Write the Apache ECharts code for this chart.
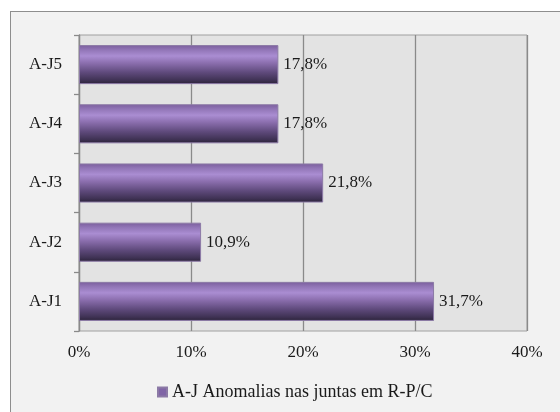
<!DOCTYPE html>
<html>
<head>
<meta charset="utf-8">
<script src="https://cdn.jsdelivr.net/npm/echarts@6/dist/echarts.min.js"></script>
<style>
  html, body { margin: 0; padding: 0; background: #ffffff; }
  #frame {
    position: absolute; left: 10px; top: 11px; width: 560px; height: 412px;
    background: #f2f2f2; border-left: 1.5px solid #8e8e8e; border-top: 1.5px solid #8e8e8e;
  }
  #chart { position: absolute; left: 0; top: 0; width: 560px; height: 412px; }
</style>
</head>
<body>
<div id="frame"></div>
<div id="chart"></div>
<script>
// Joint anomaly shares (%), bottom to top on the category axis
const categories = ['A-J1', 'A-J2', 'A-J3', 'A-J4', 'A-J5'];
const values = [31.7, 10.9, 21.8, 17.8, 17.8];
const seriesName = 'A-J Anomalias nas juntas em R-P/C';
const axisMin = 0;
const axisMax = 40;
const axisStep = 10;

const serif = '"Liberation Serif", "Times New Roman", serif';
const fontSize = 17;

const barFill = new echarts.graphic.LinearGradient(0, 0, 0, 1, [
  { offset: 0.00, color: '#7a5d9c' },
  { offset: 0.12, color: '#9175b6' },
  { offset: 0.28, color: '#aa8dd2' },
  { offset: 0.45, color: '#8d70b0' },
  { offset: 0.70, color: '#5f4a7c' },
  { offset: 0.90, color: '#3f3254' },
  { offset: 1.00, color: '#2b2239' }
]);

const chart = echarts.init(document.getElementById('chart'), null, { renderer: 'canvas' });
chart.setOption({
  backgroundColor: 'transparent',
  animation: false,
  grid: {
    left: 79, right: 33, top: 35, bottom: 81,
    show: true, backgroundColor: '#e3e3e3', borderColor: '#a0a0a0', borderWidth: 1
  },
  legend: {
    top: 378, left: 152,
    icon: 'rect', itemWidth: 9, itemHeight: 9, itemGap: 5,
    textStyle: { fontFamily: serif, fontSize: 18, color: '#1a1a1a' },
    data: [{ name: seriesName, itemStyle: { color: '#8065a6' } }]
  },
  xAxis: {
    type: 'value', min: axisMin, max: axisMax, interval: axisStep,
    axisLine: { show: false },
    axisTick: { show: false },
    axisLabel: {
      formatter: '{value}%', margin: 13,
      fontFamily: serif, fontSize: fontSize, color: '#1a1a1a'
    },
    splitLine: { show: true, lineStyle: { color: '#8a8a8a', width: 1.3 } }
  },
  yAxis: {
    type: 'category', data: categories,
    axisLine: { show: true, lineStyle: { color: '#8a8a8a', width: 1.3 } },
    axisTick: { show: true, length: 5, lineStyle: { color: '#8a8a8a', width: 1.3 } },
    axisLabel: { margin: 17, fontFamily: serif, fontSize: fontSize, color: '#1a1a1a' }
  },
  series: [{
    name: seriesName,
    type: 'bar',
    data: values,
    barWidth: '66%',
    itemStyle: { color: barFill, borderColor: '#8c7aa6', borderWidth: 1 },
    label: {
      show: true, position: 'right', distance: 5,
      fontFamily: serif, fontSize: fontSize, color: '#1a1a1a',
      formatter: p => p.value.toFixed(1).replace('.', ',') + '%'
    }
  }]
});
</script>
</body>
</html>
